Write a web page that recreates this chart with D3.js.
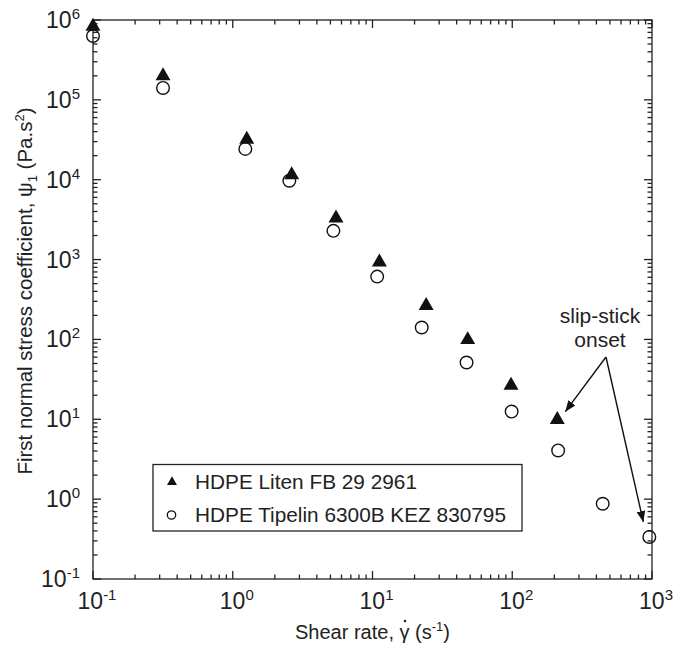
<!DOCTYPE html>
<html>
<head>
<meta charset="utf-8">
<script src="https://cdn.jsdelivr.net/npm/d3@7"></script>
<style>
  html, body { margin: 0; padding: 0; background: #fff; }
  svg { display: block; font-family: "Liberation Sans", Arial, Helvetica, sans-serif; }
</style>
</head>
<body>
<svg id="chart" width="682" height="648"></svg>
<script>
// Shear rate (1/s) and first normal stress coefficient (Pa.s^2)
const litenRate  = [0.1, 0.317, 1.26, 2.64, 5.48, 11.2, 24.2, 48, 98, 210];
const litenPsi1  = [8.3e5, 2.0e5, 3.2e4, 1.15e4, 3.3e3, 930, 265, 99, 26.5, 9.9];
const tipelinRate = [0.1, 0.317, 1.23, 2.54, 5.25, 10.8, 22.5, 47.1, 99, 213, 444, 957];
const tipelinPsi1 = [6.3e5, 1.41e5, 2.43e4, 9.7e3, 2.29e3, 612, 141, 51.4, 12.5, 4.07, 0.875, 0.336];

const seriesNames = ["HDPE Liten FB 29 2961", "HDPE Tipelin 6300B KEZ 830795"];
const xTickExp = [-1, 0, 1, 2, 3];
const yTickExp = [-1, 0, 1, 2, 3, 4, 5, 6];
const annotation = ["slip-stick", "onset"];
// indices of the points the annotation arrows point at
const slipLiten = 9, slipTipelin = 11;

const svg = d3.select("#chart");
const m = { left: 93, right: 652, top: 20, bottom: 579 };

const x = d3.scaleLog().domain([0.1, 1000]).range([m.left, m.right]);
const y = d3.scaleLog().domain([0.1, 1e6]).range([m.bottom, m.top]);

// minor/major tick values for a log domain
function logTicks(lo, hi) {
  const t = [];
  for (let e = lo; e < hi; e++) {
    for (let k = 1; k <= 9; k++) t.push({ v: k * Math.pow(10, e), major: k === 1 });
  }
  t.push({ v: Math.pow(10, hi), major: true });
  return t;
}
const xt = logTicks(-1, 3), yt = logTicks(-1, 6);
const MAJ = 8, MIN = 4.5;

const axes = svg.append("g").attr("stroke", "#222").attr("stroke-width", 1.3).attr("fill", "none");
// frame
axes.append("rect").attr("x", m.left).attr("y", m.top)
  .attr("width", m.right - m.left).attr("height", m.bottom - m.top);
// ticks, pointing inward on all four sides
xt.forEach(d => {
  const px = x(d.v), L = d.major ? MAJ : MIN;
  axes.append("line").attr("x1", px).attr("x2", px).attr("y1", m.bottom).attr("y2", m.bottom - L);
  axes.append("line").attr("x1", px).attr("x2", px).attr("y1", m.top).attr("y2", m.top + L);
});
yt.forEach(d => {
  const py = y(d.v), L = d.major ? MAJ : MIN;
  axes.append("line").attr("y1", py).attr("y2", py).attr("x1", m.left).attr("x2", m.left + L);
  axes.append("line").attr("y1", py).attr("y2", py).attr("x1", m.right).attr("x2", m.right - L);
});

// tick labels as 10 with a raised exponent
function powLabel(g, px, py, e, anchor) {
  const t = g.append("text").attr("x", px).attr("y", py).attr("text-anchor", anchor)
    .attr("font-size", 23).attr("fill", "#222");
  t.append("tspan").text("10");
  t.append("tspan").attr("font-size", 15).attr("dy", -9).text(String(e));
}
const labels = svg.append("g");
xTickExp.forEach(e => powLabel(labels, x(Math.pow(10, e)) + 4, 609, e, "middle"));
yTickExp.forEach(e => powLabel(labels, 80, y(Math.pow(10, e)) + 8, e, "end"));

// axis titles
const xTitle = svg.append("text").attr("x", (m.left + m.right) / 2).attr("y", 639)
  .attr("text-anchor", "middle").attr("font-size", 20).attr("fill", "#222");
xTitle.append("tspan").text("Shear rate, ");
xTitle.append("tspan").text("\u03B3");
xTitle.append("tspan").text(" (s");
xTitle.append("tspan").attr("font-size", 13).attr("dy", -8).text("-1");
xTitle.append("tspan").attr("dy", 8).text(")");
// overdot on gamma (shear rate)
{
  const gi = "Shear rate, ".length;
  const box = xTitle.node().getExtentOfChar(gi);
  svg.append("circle").attr("cx", box.x + box.width / 2 + 0.5).attr("cy", 621)
    .attr("r", 1.3).attr("fill", "#222");
}

const yTitle = svg.append("text")
  .attr("transform", "translate(32,291) rotate(-90)")
  .attr("text-anchor", "middle").attr("font-size", 20.5).attr("fill", "#222");
yTitle.append("tspan").text("First normal stress coefficient, \u03C8");
yTitle.append("tspan").attr("font-size", 13).attr("dy", 5).text("1");
yTitle.append("tspan").attr("dy", -5).text(" (Pa.s");
yTitle.append("tspan").attr("font-size", 13).attr("dy", -8).text("2");
yTitle.append("tspan").attr("dy", 8).text(")");

// data markers
const tri = d3.symbol().type(d3.symbolTriangle).size(97);
const liten = litenRate.map((r, i) => ({ r, p: litenPsi1[i] }));
const tipelin = tipelinRate.map((r, i) => ({ r, p: tipelinPsi1[i] }));

svg.append("g").selectAll("circle").data(tipelin).join("circle")
  .attr("cx", d => x(d.r)).attr("cy", d => y(d.p)).attr("r", 6.3)
  .attr("fill", "none").attr("stroke", "#111").attr("stroke-width", 1.4);
svg.append("g").selectAll("path").data(liten).join("path")
  .attr("d", tri).attr("transform", d => `translate(${x(d.r)},${y(d.p)})`)
  .attr("fill", "#111");

// legend
const lg = svg.append("g");
lg.append("rect").attr("x", 153).attr("y", 464.5).attr("width", 369).attr("height", 66.5)
  .attr("fill", "#fff").attr("stroke", "#222").attr("stroke-width", 1.3);
lg.append("path").attr("d", d3.symbol().type(d3.symbolTriangle).size(43)())
  .attr("transform", "translate(172,482)").attr("fill", "#111");
lg.append("circle").attr("cx", 171.5).attr("cy", 515).attr("r", 4.2)
  .attr("fill", "none").attr("stroke", "#111").attr("stroke-width", 1.3);
lg.append("text").attr("x", 195).attr("y", 489).attr("font-size", 20.8).attr("fill", "#222").text(seriesNames[0]);
lg.append("text").attr("x", 195).attr("y", 522).attr("font-size", 20.8).attr("fill", "#222").text(seriesNames[1]);

// annotation with arrows
svg.append("defs").append("marker").attr("id", "head")
  .attr("viewBox", "0 0 10 10").attr("refX", 10).attr("refY", 5)
  .attr("markerWidth", 11).attr("markerHeight", 11).attr("markerUnits", "userSpaceOnUse")
  .attr("orient", "auto")
  .append("path").attr("d", "M0,1 L10,5 L0,9 Z").attr("fill", "#111");

const ann = svg.append("g").attr("font-size", 21).attr("fill", "#222").attr("text-anchor", "middle");
ann.append("text").attr("x", 600).attr("y", 323).text(annotation[0]);
ann.append("text").attr("x", 600).attr("y", 347).text(annotation[1]);

const origin = [606, 357];
const tgt1 = [x(litenRate[slipLiten]) + 8, y(litenPsi1[slipLiten]) - 8];
const tgt2 = [x(tipelinRate[slipTipelin]) - 6, y(tipelinPsi1[slipTipelin]) - 15];
[tgt1, tgt2].forEach(t => {
  svg.append("line").attr("x1", origin[0]).attr("y1", origin[1])
    .attr("x2", t[0]).attr("y2", t[1])
    .attr("stroke", "#111").attr("stroke-width", 1.4).attr("marker-end", "url(#head)");
});
</script>
</body>
</html>
